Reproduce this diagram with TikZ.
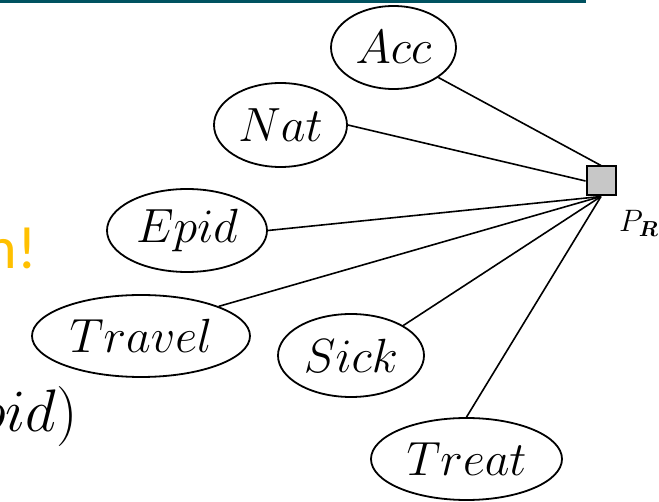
\documentclass[tikz,border=0pt]{standalone}
\usepackage{fix-cm}
\usepackage{bm}
\usepackage{fontspec}
\newfontfamily\slidefont{Carlito}
\usetikzlibrary{shapes.geometric}
\definecolor{titlebar}{RGB}{0,82,96}
\definecolor{slideorange}{RGB}{255,192,0}
\begin{document}
\begin{tikzpicture}[x=1pt,y=-1pt,
  var/.style={draw, ellipse, line width=1.8pt, inner sep=0pt, font=\fontsize{48}{58}\selectfont},
  factor/.style={draw, fill=black!22, line width=2pt, minimum size=29pt, inner sep=0pt},
  edge/.style={line width=1.6pt}]
\useasboundingbox (0,0) rectangle (659,502);
\fill[titlebar] (0,0) rectangle (586,3);
% text cut off by the left border
\node[anchor=base east, inner sep=0pt, text=slideorange, font=\slidefont\fontsize{60}{72}\selectfont] (cuttext) at (37,269) {n!};
\node[anchor=base east, inner sep=0pt, font=\fontsize{60}{72}\selectfont] (cutformula) at (78,432) {$pid)$};
% variables
\node[var, minimum width=125pt, minimum height=83pt] (acc) at (393.5,47.5) {$Acc$};
\node[var, minimum width=133pt, minimum height=84pt] (nat) at (280.5,125) {$Nat$};
\node[var, minimum width=160pt, minimum height=83pt] (epid) at (187,230.5) {$Epid$};
\node[var, minimum width=218pt, minimum height=82pt] (travel) at (141,336) {$Travel$};
\node[var, minimum width=146pt, minimum height=83pt] (sick) at (351,355.5) {$Sick$};
\node[var, minimum width=191pt, minimum height=82pt] (treat) at (466.5,459) {$Treat$};
% factor
\node[factor] (pr) at (601,181) {};
\node[anchor=base west, inner sep=0pt, font=\fontsize{31}{37}\selectfont] (prlabel) at (619,232) {$P_{\bm{R}}$};
\draw[edge] (acc.south east) -- (pr.north);
\draw[edge] (nat.east) -- (pr.west);
\draw[edge] (epid.east) -- (pr.south);
\draw[edge] (travel.north east) -- (pr.south);
\draw[edge] (sick.north east) -- (pr.south);
\draw[edge] (treat.north) -- (pr.south);
\end{tikzpicture}
\end{document}
